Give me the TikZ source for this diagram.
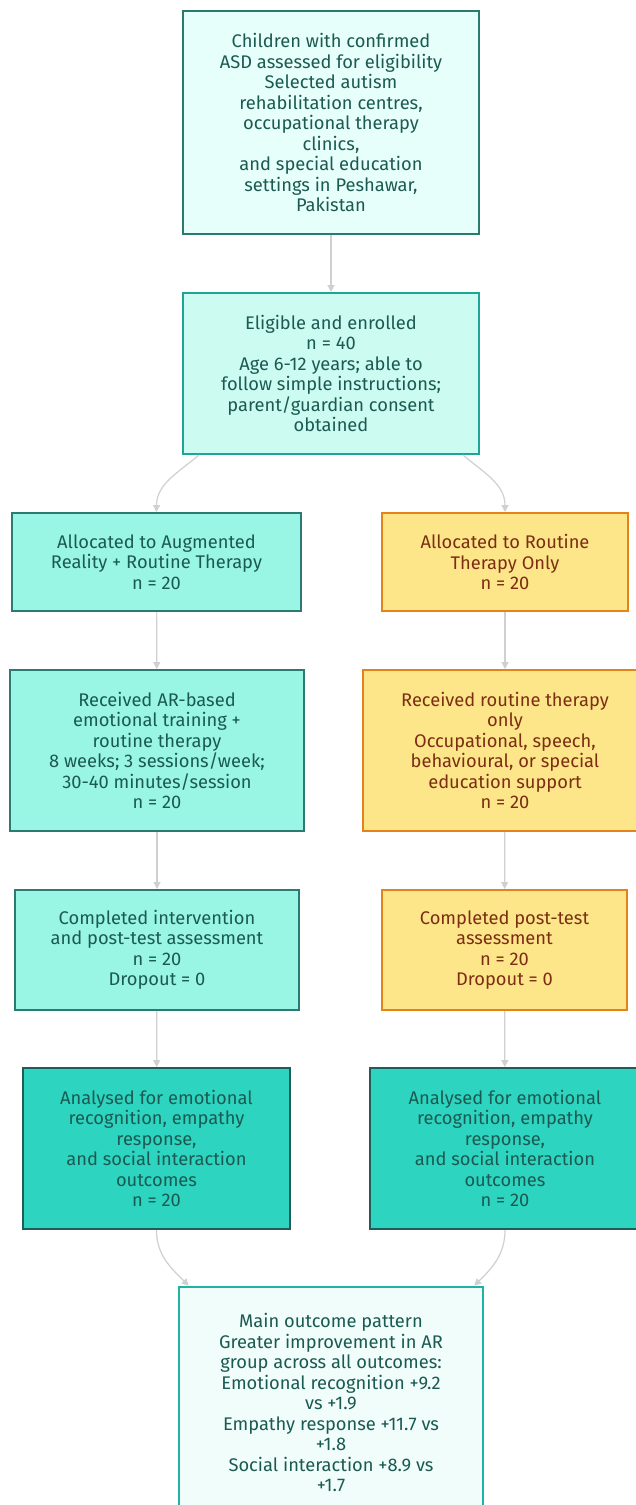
\documentclass[tikz,border=0pt]{standalone}
\usepackage{fontspec}
\setmainfont{Fira Sans}
\usetikzlibrary{arrows.meta}
\definecolor{tealtext}{HTML}{1B5A52}
\definecolor{browntext}{HTML}{7C2D12}
\definecolor{linkgray}{HTML}{D0D0D0}
\definecolor{startfill}{HTML}{E6FFFA}
\definecolor{startline}{HTML}{2B7A6E}
\definecolor{enrolfill}{HTML}{CCFBF1}
\definecolor{enrolline}{HTML}{1FA595}
\definecolor{armfill}{HTML}{99F6E4}
\definecolor{armline}{HTML}{2C7A72}
\definecolor{routfill}{HTML}{FDE68A}
\definecolor{routline}{HTML}{E3841A}
\definecolor{anafill}{HTML}{2DD4BF}
\definecolor{analine}{HTML}{1F5E58}
\definecolor{endfill}{HTML}{F0FDFA}
\definecolor{endline}{HTML}{20B2A3}
\begin{document}
\begin{tikzpicture}[x=1pt,y=-1pt,
    box/.style={draw,line width=2pt,align=center,inner sep=0pt,text=tealtext,
      font=\fontsize{18.3}{20.5}\selectfont},
    startbox/.style={box,fill=startfill,draw=startline},
    enrolbox/.style={box,fill=enrolfill,draw=enrolline},
    armbox/.style={box,fill=armfill,draw=armline},
    routbox/.style={box,fill=routfill,draw=routline,text=browntext},
    anabox/.style={box,fill=anafill,draw=analine},
    endbox/.style={box,line width=2.6pt,fill=endfill,draw=endline},
    link/.style={draw=linkgray,line width=1.2pt,-{Triangle[length=7pt,width=7pt]}}]
  \useasboundingbox[fill=white] (0,0) rectangle (635,1505);
  \node[startbox,minimum width=296,minimum height=223] (screen) at (331,122.5)
    {Children with confirmed\\ASD assessed for eligibility\\Selected autism\\rehabilitation centres,\\occupational therapy\\clinics,\\and special education\\settings in Peshawar,\\Pakistan};
  \node[enrolbox,minimum width=296,minimum height=161] (enrol) at (331,373.5)
    {Eligible and enrolled\\n = 40\\Age 6-12 years; able to\\follow simple instructions;\\parent/guardian consent\\obtained};
  \node[armbox,minimum width=289,minimum height=98] (aralloc) at (156.5,562)
    {Allocated to Augmented\\Reality + Routine Therapy\\n = 20};
  \node[routbox,minimum width=246,minimum height=98] (rtalloc) at (505,562)
    {Allocated to Routine\\Therapy Only\\n = 20};
  \node[armbox,minimum width=294,minimum height=161] (arrecv) at (157,750.5)
    {Received AR-based\\emotional training +\\routine therapy\\8 weeks; 3 sessions/week;\\30-40 minutes/session\\n = 20};
  \node[routbox,minimum width=284,minimum height=161] (rtrecv) at (505,750.5)
    {Received routine therapy\\only\\Occupational, speech,\\behavioural, or special\\education support\\n = 20};
  \node[armbox,minimum width=284,minimum height=120] (arcomp) at (157,950)
    {Completed intervention\\and post-test assessment\\n = 20\\Dropout = 0};
  \node[routbox,minimum width=245,minimum height=120] (rtcomp) at (504.5,950)
    {Completed post-test\\assessment\\n = 20\\Dropout = 0};
  \node[anabox,minimum width=267,minimum height=161] (arana) at (156.5,1148.5)
    {Analysed for emotional\\recognition, empathy\\response,\\and social interaction\\outcomes\\n = 20};
  \node[anabox,minimum width=270,minimum height=161] (rtana) at (505,1148.5)
    {Analysed for emotional\\recognition, empathy\\response,\\and social interaction\\outcomes\\n = 20};
  \node[endbox,minimum width=304,minimum height=231] (result) at (331,1402.5)
    {Main outcome pattern\\Greater improvement in AR\\group across all outcomes:\\Emotional recognition +9.2\\vs +1.9\\Empathy response +11.7 vs\\+1.8\\Social interaction +8.9 vs\\+1.7};
  \draw[link] (screen) -- (enrol);
  \draw[link] ([xshift=17]enrol.south west) to[out=-140,in=90] (aralloc.north);
  \draw[link] ([xshift=-17]enrol.south east) to[out=-40,in=90] (rtalloc.north);
  \draw[link] (aralloc) -- (arrecv);
  \draw[link] (rtalloc) -- (rtrecv);
  \draw[link] (arrecv) -- (arcomp);
  \draw[link] (rtrecv) -- (rtcomp);
  \draw[link] (arcomp) -- (arana);
  \draw[link] (rtcomp) -- (rtana);
  \draw[link] (arana.south) to[out=-90,in=135] ([xshift=11]result.north west);
  \draw[link] (rtana.south) to[out=-90,in=45] ([xshift=-10]result.north east);
\end{tikzpicture}
\end{document}
